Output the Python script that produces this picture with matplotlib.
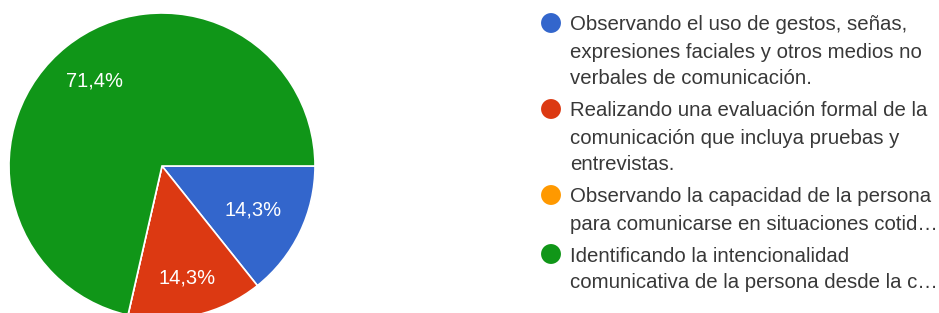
import matplotlib
matplotlib.use("Agg")
import matplotlib.pyplot as plt
import numpy as np

plt.rcParams['font.family'] = ['Liberation Sans', 'DejaVu Sans']

# data
labels = [
    "Observando el uso de gestos, señas,\nexpresiones faciales y otros medios no\nverbales de comunicación.",
    "Realizando una evaluación formal de la\ncomunicación que incluya pruebas y\nentrevistas.",
    "Observando la capacidad de la persona\npara comunicarse en situaciones cotid…",
    "Identificando la intencionalidad\ncomunicativa de la persona desde la c…",
]
counts = [1, 1, 0, 5]
colors = ["#3366cc", "#dc3912", "#ff9900", "#109618"]

W, H = 939, 313
fig = plt.figure(figsize=(W / 100, H / 100), dpi=100)

# pie
ax = fig.add_axes([0, 0, 1, 1])
def fmt(p):
    if p < 0.5:
        return ""
    return ("%.1f%%" % p).replace(".", ",")

cx, cy, R = 162, H - 166, 153
wedges, texts, autotexts = ax.pie(
    counts, colors=colors, startangle=0, counterclock=False,
    center=(cx, cy), radius=R, autopct=fmt, pctdistance=0.7,
    wedgeprops=dict(edgecolor="white", linewidth=1.2),
    textprops=dict(color="white", fontsize=14.5))
# label distance per slice (google puts them a bit unevenly)
dists = [0.66, 0.75, 0.7, 0.71]
for w, t, d in zip(wedges, autotexts, dists):
    a = np.radians((w.theta1 + w.theta2) / 2)
    t.set_position((cx + d * R * np.cos(a), cy + d * R * np.sin(a)))
ax.set_xlim(0, W)
ax.set_ylim(0, H)
ax.set_aspect("equal")
ax.axis("off")

# legend
lg = fig.add_axes([0, 0, 1, 1])
lg.set_xlim(0, W)
lg.set_ylim(H, 0)
lg.axis("off")
y = 25
for lab, c in zip(labels, colors):
    lg.scatter([551], [y - 2], s=205, color=c, edgecolors="none")
    for line in lab.split("\n"):
        lg.text(570, y + 5.5, line, fontsize=14.7, color="#383838",
                va="baseline", ha="left")
        y += 27
    y += 5

fig.savefig("out.png", dpi=100, facecolor="white")
